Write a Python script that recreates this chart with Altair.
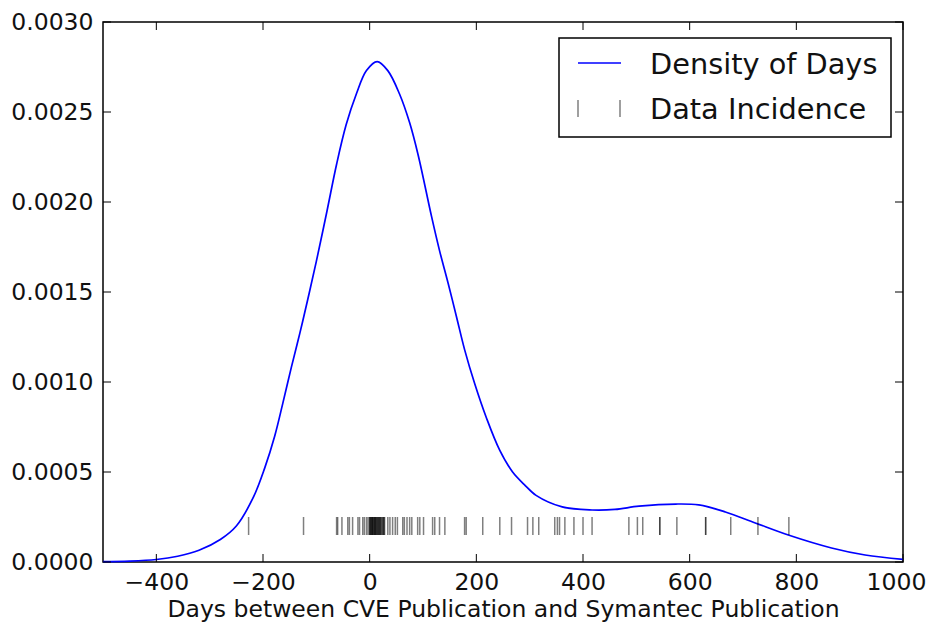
import altair as alt
import pandas as pd

# ---- data ----
density_days = [-500, -450, -400, -360, -320, -280, -250, -218, -197, -178, -163, -147, -131, -116,
                -100, -80, -62, -44, -25, -6, 14, 34, 56, 75, 91, 116, 131, 147, 163, 178,
                197, 219, 244, 268, 290, 312, 361, 417, 460, 505, 574, 617, 667, 723, 785, 866,
                929, 1000]
density_values = [0.000002, 0.000005, 0.000014, 0.000032, 0.000065, 0.000125, 0.0002, 0.00036,
                  0.00052, 0.0007, 0.00088, 0.00108, 0.00127, 0.00146,
                  0.00167, 0.00195, 0.00221, 0.00243, 0.0026, 0.00273, 0.00278, 0.00273, 0.0026,
                  0.00244, 0.00226, 0.00192, 0.00173, 0.00155, 0.00136, 0.00118,
                  0.00099, 0.0008, 0.00062, 0.0005, 0.00043, 0.00037, 0.000306, 0.000289,
                  0.000292, 0.00031, 0.000322, 0.000317, 0.000278, 0.000217, 0.00015, 0.000078,
                  0.000039, 0.000015]

rug_days = [-227, -124, -62, -60, -52, -41, -38, -32, -22, -19, -13, -10, -6, -3,
            0, 0, 1, 2, 3, 4, 5, 5, 6, 7, 8, 9, 10, 10, 11, 12, 13, 14, 15, 16, 17, 18, 19, 20,
            21, 22, 24, 25, 26, 27, 28, 34, 38, 43, 48, 52, 62, 65, 70, 75, 79,
            90, 94, 101, 118, 122, 131, 141, 178, 181, 212, 244, 266, 296, 306, 317, 347, 352,
            356, 366, 383, 400, 417, 486, 502, 512, 544, 544, 576, 630, 630, 677, 728, 786]
rug_level = 0.0002

x_ticks = [-400, -200, 0, 200, 400, 600, 800, 1000]
y_ticks = [0.0, 0.0005, 0.001, 0.0015, 0.002, 0.0025, 0.003]
legend_labels = ["Density of Days", "Data Incidence"]
x_title = "Days between CVE Publication and Symantec Publication"

W, H = 800, 540
FONT = "DejaVu Sans"
BLUE = "#0000ff"
TXT = "#111111"

dens = pd.DataFrame({"days": density_days, "density": density_values})
rugdf = pd.DataFrame({"days": rug_days, "density": [rug_level] * len(rug_days)})
xt = pd.DataFrame({"days": x_ticks})
yt = pd.DataFrame({"density": y_ticks})
one = pd.DataFrame({"a": [0]})

xscale = alt.Scale(domain=[-500, 1000], nice=False, zero=False)
yscale = alt.Scale(domain=[0, 0.003], nice=False)

line = alt.Chart(dens).mark_line(color=BLUE, strokeWidth=1.7, interpolate="catmull-rom").encode(
    x=alt.X("days:Q", scale=xscale,
            axis=alt.Axis(values=x_ticks, title=x_title, ticks=False, tickSize=0, domain=False,
                          grid=False, labelFlush=False, labelOverlap=False, labelPadding=8,
                          labelOffset=alt.expr("datum.value == 1000 ? -7 : 0"),
                          labelFontSize=23.5, titleFontSize=23.5, titlePadding=4, format="d",
                          labelColor=TXT, titleColor=TXT, titleFontWeight="normal",
                          labelFont=FONT, titleFont=FONT)),
    y=alt.Y("density:Q", scale=yscale,
            axis=alt.Axis(values=y_ticks, title=None, ticks=False, tickSize=0, domain=False,
                          grid=False, labelFlush=False, labelOverlap=False, labelPadding=10,
                          labelFontSize=23.5, format=".4f", labelColor=TXT, labelFont=FONT)),
)

rug = alt.Chart(rugdf).mark_tick(color="black", opacity=0.5, thickness=1.5, size=18,
                                 orient="vertical").encode(
    x=alt.X("days:Q", scale=xscale), y=alt.Y("density:Q", scale=yscale))

tick_len = 8
bt = alt.Chart(xt).mark_rule(color="black", strokeWidth=1).encode(
    x=alt.X("days:Q", scale=xscale), y=alt.value(H), y2=alt.value(H - tick_len))
tt = alt.Chart(xt).mark_rule(color="black", strokeWidth=1).encode(
    x=alt.X("days:Q", scale=xscale), y=alt.value(0), y2=alt.value(tick_len))
lt = alt.Chart(yt).mark_rule(color="black", strokeWidth=1).encode(
    y=alt.Y("density:Q", scale=yscale), x=alt.value(0), x2=alt.value(tick_len))
rt = alt.Chart(yt).mark_rule(color="black", strokeWidth=1).encode(
    y=alt.Y("density:Q", scale=yscale), x=alt.value(W), x2=alt.value(W - tick_len))

# legend
box = alt.Chart(one).mark_rect(fill="white", stroke="black", strokeWidth=1.5).encode(
    x=alt.value(456), x2=alt.value(788), y=alt.value(16), y2=alt.value(115))
leg_line = alt.Chart(one).mark_rule(color=BLUE, strokeWidth=1.7).encode(
    x=alt.value(475), x2=alt.value(518), y=alt.value(41))
leg_t1 = alt.Chart(one).mark_rule(color="black", opacity=0.5, strokeWidth=1.5).encode(
    x=alt.value(475), y=alt.value(78), y2=alt.value(95))
leg_t2 = alt.Chart(one).mark_rule(color="black", opacity=0.5, strokeWidth=1.5).encode(
    x=alt.value(517), y=alt.value(78), y2=alt.value(95))
txt1 = alt.Chart(one).mark_text(align="left", baseline="middle", fontSize=28.8, font=FONT,
                                color=TXT).encode(
    x=alt.value(547), y=alt.value(43), text=alt.value(legend_labels[0]))
txt2 = alt.Chart(one).mark_text(align="left", baseline="middle", fontSize=28.8, font=FONT,
                                color=TXT).encode(
    x=alt.value(547), y=alt.value(88), text=alt.value(legend_labels[1]))

chart = alt.layer(line, rug, bt, tt, lt, rt, box, leg_line, leg_t1, leg_t2, txt1, txt2).properties(
    width=W, height=H,
    background="white",
    autosize=alt.AutoSizeParams(type="none"),
    padding={"left": 95, "top": 14, "right": 24, "bottom": 62},
).configure_view(stroke="black", strokeWidth=1.5)

chart.save("out.html", embed_options={"renderer": "svg", "actions": False})
